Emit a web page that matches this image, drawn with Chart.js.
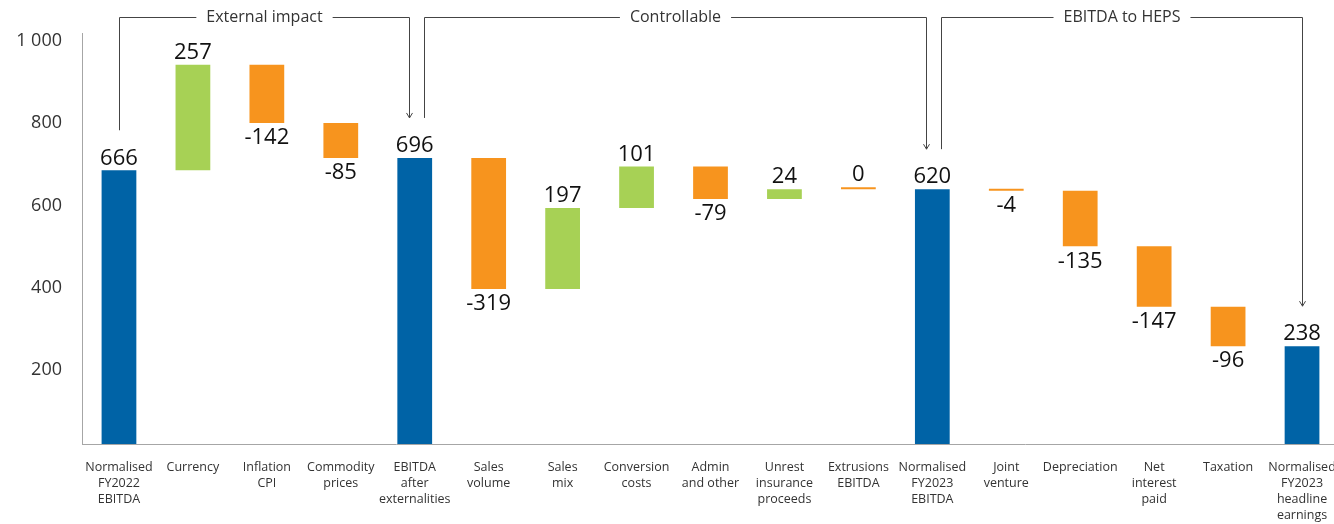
<!DOCTYPE html>
<html>
<head>
<meta charset="utf-8">
<script src="https://cdn.jsdelivr.net/npm/chart.js@4/dist/chart.umd.min.js"></script>
<style>
  html, body { margin: 0; padding: 0; background: #fff; overflow: hidden; }
  #wrap { width: 1380px; height: 524px; }
</style>
</head>
<body>
<div id="wrap"><canvas id="bridge" width="1380" height="524"></canvas></div>
<script>
'use strict';

// ── Data ──────────────────────────────────────────────────
const categories = [
  ['Normalised', 'FY2022', 'EBITDA'],
  ['Currency'],
  ['Inflation', 'CPI'],
  ['Commodity', 'prices'],
  ['EBITDA', 'after', 'externalities'],
  ['Sales', 'volume'],
  ['Sales', 'mix'],
  ['Conversion', 'costs'],
  ['Admin', 'and other'],
  ['Unrest', 'insurance', 'proceeds'],
  ['Extrusions', 'EBITDA'],
  ['Normalised', 'FY2023', 'EBITDA'],
  ['Joint', 'venture'],
  ['Depreciation'],
  ['Net', 'interest', 'paid'],
  ['Taxation'],
  ['Normalised', 'FY2023', 'headline', 'earnings']
];

// 'total' bars start at zero, 'step' bars float from the running total
const kinds = ['total', 'step', 'step', 'step', 'total', 'step', 'step', 'step',
               'step', 'step', 'step', 'total', 'step', 'step', 'step', 'step', 'total'];

const values = [666, 257, -142, -85, 696, -319, 197, 101, -79, 24, 0, 620, -4, -135, -147, -96, 238];

const yTicks = [200, 400, 600, 800, 1000];

const groups = [
  { from: 0,  to: 4,  text: 'External impact' },
  { from: 4,  to: 11, text: 'Controllable' },
  { from: 11, to: 16, text: 'EBITDA to HEPS' }
];

// ── Colours ───────────────────────────────────────────────
const BLUE   = '#0063a6';
const GREEN  = '#a7d155';
const ORANGE = '#f7941e';
const FONT   = "'Open Sans', 'DejaVu Sans', sans-serif";

// ── Floating bar ranges ───────────────────────────────────
let running = 0;
const ranges = values.map((v, i) => {
  if (kinds[i] === 'total') { running = v; return [0, v]; }
  const r = [running, running + v];
  running += v;
  return r;
});
const colors = values.map((v, i) =>
  kinds[i] === 'total' ? BLUE : (v > 0 ? GREEN : ORANGE));

function fmtThousands(n) {
  return String(n).replace(/\B(?=(\d{3})+(?!\d))/g, ' ');
}

// ── Value labels above / below each bar ───────────────────
const valueLabels = {
  id: 'valueLabels',
  afterDatasetsDraw(chart) {
    const { ctx } = chart;
    const meta = chart.getDatasetMeta(0);
    ctx.save();
    ctx.font = `22px ${FONT}`;
    ctx.fillStyle = '#111';
    ctx.textAlign = 'center';
    meta.data.forEach((bar, i) => {
      const v = values[i];
      const top = Math.min(bar.y, bar.base);
      const bottom = Math.max(bar.y, bar.base);
      if (kinds[i] === 'total' || v >= 0) {
        ctx.textBaseline = 'bottom';
        ctx.fillText(String(v), bar.x, top - 1);
      } else {
        ctx.textBaseline = 'top';
        ctx.fillText(String(v), bar.x, bottom + 4);
      }
    });
    ctx.restore();
  }
};

// ── Section brackets across the top ───────────────────────
const brackets = {
  id: 'brackets',
  afterDraw(chart) {
    const { ctx } = chart;
    const meta = chart.getDatasetMeta(0);
    const yLine = 17;
    const last = values.length - 1;
    ctx.save();
    ctx.font = `16px ${FONT}`;
    ctx.textAlign = 'center';
    ctx.textBaseline = 'middle';
    groups.forEach(g => {
      const a = meta.data[g.from], b = meta.data[g.to];
      const x1 = Math.round(a.x + (g.from > 0 ? 9 : 0)) + 0.5;
      const x2 = Math.round(b.x - (g.to < last ? 6 : 0)) + 0.5;
      const y1 = Math.min(a.y, a.base) - 40;
      const y2 = Math.min(b.y, b.base) - 40;
      const mid = (x1 + x2) / 2;
      const half = ctx.measureText(g.text).width / 2 + 10;

      ctx.strokeStyle = '#444';
      ctx.lineWidth = 1;
      ctx.beginPath();
      ctx.moveTo(x1, y1);
      ctx.lineTo(x1, yLine + 0.5);
      ctx.lineTo(mid - half, yLine + 0.5);
      ctx.moveTo(mid + half, yLine + 0.5);
      ctx.lineTo(x2, yLine + 0.5);
      ctx.lineTo(x2, y2);
      ctx.stroke();

      // arrow head
      ctx.beginPath();
      ctx.moveTo(x2 - 3, y2 - 5);
      ctx.lineTo(x2, y2);
      ctx.lineTo(x2 + 3, y2 - 5);
      ctx.stroke();

      ctx.fillStyle = '#333';
      ctx.fillText(g.text, mid, yLine);
    });
    ctx.restore();
  }
};

// ── Chart ─────────────────────────────────────────────────
new Chart(document.getElementById('bridge'), {
  type: 'bar',
  data: {
    labels: categories,
    datasets: [{
      data: ranges,
      backgroundColor: colors,
      borderWidth: 0,
      barPercentage: 0.47,
      categoryPercentage: 1,
      minBarLength: 2
    }]
  },
  options: {
    responsive: false,
    animation: false,
    layout: { padding: { top: 33, right: 41, left: 0, bottom: 0 } },
    plugins: { legend: { display: false }, tooltip: { enabled: false } },
    scales: {
      x: {
        grid: { display: false, drawTicks: false },
        border: { display: true, color: '#a6a6a6', width: 1 },
        ticks: {
          color: '#333', padding: 15, maxRotation: 0, autoSkip: false,
          font: { family: FONT, size: 12.5, lineHeight: 1.28 }
        },
        afterFit: s => { s.height = 80; }
      },
      y: {
        min: 0, max: 1000,
        grid: { display: false, drawTicks: false },
        border: { display: true, color: '#a6a6a6', width: 1 },
        afterBuildTicks: s => { s.ticks = yTicks.map(v => ({ value: v })); },
        ticks: {
          color: '#333', padding: 20, labelOffset: 8,
          font: { family: FONT, size: 18 },
          callback: v => fmtThousands(v)
        },
        afterFit: s => { s.width = 82; }
      }
    }
  },
  plugins: [valueLabels, brackets]
});
</script>
</body>
</html>
